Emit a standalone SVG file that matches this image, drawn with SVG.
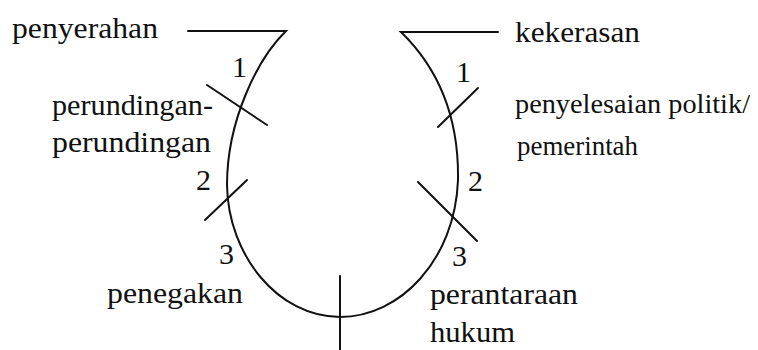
<svg xmlns="http://www.w3.org/2000/svg" width="758" height="350" viewBox="0 0 758 350">
<style>
.t{font-family:'Liberation Serif','Times New Roman',serif;font-size:30px;fill:#111}
.s{font-size:27px}
.l{fill:none;stroke:#111;stroke-width:2;stroke-linecap:round}
</style>
<rect width="758" height="350" fill="#fff"/>
<g id="connectors">
<path class="l" d="M188,31 L286,31 C258,58 227,120 227,185 C228,255 278,317 340,317 C400,317 455,260 458,180 C459,120 440,70 401,32 L498,32"/>
<line class="l" x1="207" y1="85" x2="267" y2="125"/>
<line class="l" x1="247" y1="180" x2="205" y2="220"/>
<line class="l" x1="340" y1="276" x2="340" y2="350"/>
<line class="l" x1="478" y1="88" x2="438" y2="127"/>
<line class="l" x1="418" y1="182" x2="477" y2="241"/>
</g>
<g id="penyerahan"><text class="t" x="12" y="38" textLength="146" lengthAdjust="spacingAndGlyphs">penyerahan</text></g>
<g id="kekerasan"><text class="t" x="515" y="42" textLength="125" lengthAdjust="spacingAndGlyphs">kekerasan</text></g>
<g id="perundingan"><text class="t" x="52" y="115" textLength="161" lengthAdjust="spacingAndGlyphs">perundingan-</text><text class="t" x="52" y="152" textLength="159" lengthAdjust="spacingAndGlyphs">perundingan</text></g>
<g id="penyelesaian"><text class="t s" x="515" y="113" textLength="235" lengthAdjust="spacingAndGlyphs">penyelesaian politik/</text><text class="t s" x="517" y="155" textLength="121" lengthAdjust="spacingAndGlyphs">pemerintah</text></g>
<g id="penegakan"><text class="t" x="107" y="303" textLength="136" lengthAdjust="spacingAndGlyphs">penegakan</text></g>
<g id="perantaraan"><text class="t" x="430" y="304" textLength="148" lengthAdjust="spacingAndGlyphs">perantaraan</text><text class="t" x="430" y="342" textLength="85" lengthAdjust="spacingAndGlyphs">hukum</text></g>
<g id="numbers">
<text class="t" x="232" y="77">1</text>
<text class="t" x="196" y="190">2</text>
<text class="t" x="219" y="264">3</text>
<text class="t" x="456" y="82">1</text>
<text class="t" x="468" y="191">2</text>
<text class="t" x="452" y="266">3</text>
</g>
</svg>
